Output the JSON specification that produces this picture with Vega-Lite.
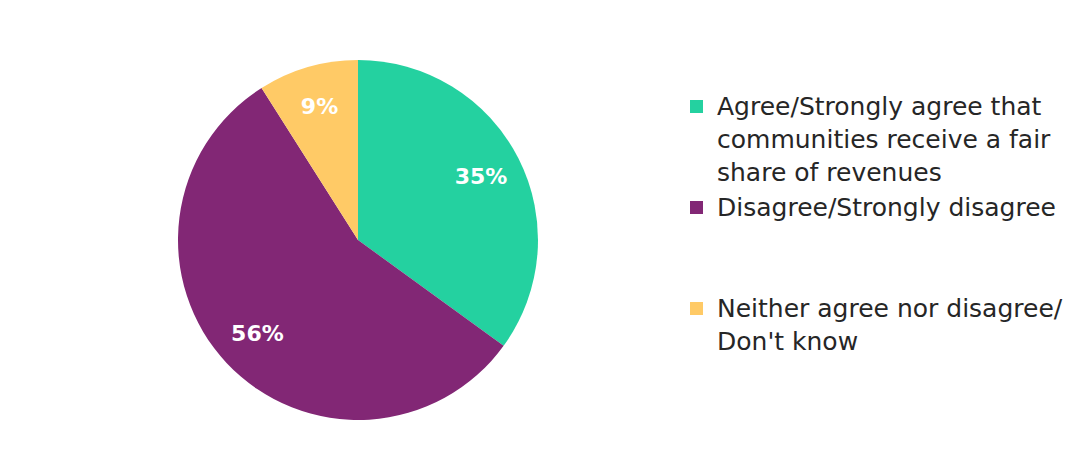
{
  "$schema": "https://vega.github.io/schema/vega-lite/v6.json",
  "width": 704,
  "height": 476,
  "padding": {"left": 6, "top": 2, "right": 0, "bottom": 0},
  "background": "white",
  "view": {"stroke": null},
  "data": {
    "values": [
      {"category": "Agree/Strongly agree that|communities receive a fair|share of revenues", "value": 35, "label": "35%", "order": 1},
      {"category": "Disagree/Strongly disagree||", "value": 56, "label": "56%", "order": 2},
      {"category": "Neither agree nor disagree/|Don't know", "value": 9, "label": "9%", "order": 3}
    ]
  },
  "encoding": {
    "theta": {"field": "value", "type": "quantitative", "stack": true},
    "order": {"field": "order", "type": "quantitative"}
  },
  "layer": [
    {
      "mark": {"type": "arc", "outerRadius": 180},
      "encoding": {
        "color": {
          "field": "category",
          "type": "nominal",
          "sort": null,
          "scale": {
            "domain": ["Agree/Strongly agree that|communities receive a fair|share of revenues", "Disagree/Strongly disagree||", "Neither agree nor disagree/|Don't know"],
            "range": ["#24D1A0", "#822775", "#FFCA66"]
          },
          "legend": {
            "title": null,
            "orient": "none",
            "legendX": 678,
            "legendY": 92,
            "symbolType": "square",
            "symbolSize": 169,
            "symbolStrokeWidth": 0,
            "labelFont": "DejaVu Sans",
            "labelFontSize": 25,
            "labelColor": "#262626",
            "labelLimit": 500,
            "labelOffset": 8,
            "rowPadding": 9,
            "labelExpr": "split(datum.label, '|')"
          }
        }
      }
    },
    {
      "mark": {"type": "text", "radius": 138, "font": "DejaVu Sans", "fontSize": 22, "fontWeight": "bold", "fill": "white"},
      "encoding": {"text": {"field": "label"}}
    }
  ],
  "config": {
    "style": {"guide-label": {"lineHeight": 33}}
  }
}
